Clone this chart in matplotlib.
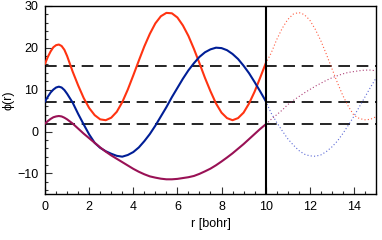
import numpy as np
import matplotlib
matplotlib.use("Agg")
import matplotlib.pyplot as plt
from matplotlib.ticker import MultipleLocator

plt.rcParams['font.family'] = ['Liberation Sans', 'DejaVu Sans']

# radial grid (bohr)
r_in = [0.0, 0.125, 0.25, 0.375, 0.5, 0.625, 0.75, 0.875, 1.0, 1.25, 1.5, 1.75, 2.0,
        2.25, 2.5, 2.75, 3.0, 3.25,
        3.5, 3.75, 4.0, 4.25, 4.5, 4.75, 5.0, 5.25, 5.5, 5.75, 6.0, 6.25, 6.5, 6.75,
        7.0, 7.25, 7.5, 7.75, 8.0, 8.25, 8.5, 8.75, 9.0, 9.25, 9.5, 9.75, 10.0]
r_out = [10.0, 10.25, 10.5, 10.75, 11.0, 11.25, 11.5, 11.75, 12.0, 12.25, 12.5,
         12.75, 13.0, 13.25, 13.5, 13.75, 14.0, 14.25, 14.5, 14.75, 15.0]

# energies (dashed levels)
levels = [15.55, 7.07, 1.74]

# red state (inside / outside)
red_in = [16.2, 17.8, 19.1, 20.1, 20.6, 20.75, 20.4, 19.5, 18.0, 14.3, 11.0, 8.0, 5.6,
          3.9, 2.9, 2.7, 3.3, 4.7,
          7.0, 10.0, 13.4, 16.9, 20.3, 23.3, 25.8, 27.5, 28.3, 28.2, 27.2, 25.3, 22.8,
          19.7, 16.3, 12.8, 9.6, 6.7, 4.5, 3.2, 2.7, 3.2, 4.5, 6.7, 9.5, 12.8, 16.2]
red_out = [16.2, 18.7, 21.9, 24.6, 26.7, 28.0, 28.4, 27.9, 26.6, 24.4, 21.7, 18.5,
           15.1, 11.7, 8.6, 6.0, 3.9, 3.1, 2.8, 2.9, 3.5]

# blue state
blue_in = [7.2, 8.3, 9.3, 10.0, 10.5, 10.7, 10.5, 9.9, 9.0, 6.9, 4.2, 1.7, -0.7,
           -2.7, -3.9, -4.7, -5.3, -5.8,
           -6.0, -5.6, -4.9, -3.8, -2.3, -0.6, 1.4, 3.6, 5.8, 8.2, 10.4, 12.6, 14.6,
           16.3, 17.8, 18.9, 19.6, 20.0, 19.9, 19.4, 18.5, 17.3, 15.7, 13.9, 11.8, 9.6, 7.3]
blue_out = [7.3, 4.4, 2.2, 0.2, -1.7, -3.2, -4.5, -5.4, -5.8, -5.9, -5.6, -4.8, -3.7,
            -2.3, -0.5, 1.5, 3.6, 5.9, 8.2, 10.5, 12.7]

# purple state
purple_in = [1.9, 2.5, 3.0, 3.4, 3.6, 3.7, 3.6, 3.3, 2.9, 1.9, 0.7, -0.5, -1.6,
             -2.7, -3.8, -4.8, -5.7, -6.5,
             -7.3, -8.1, -8.9, -9.6, -10.2, -10.7, -11.0, -11.25, -11.4, -11.4, -11.3,
             -11.1, -10.9, -10.6, -10.1, -9.5, -8.85, -8.05, -7.15, -6.2, -5.2, -4.1,
             -3.0, -1.8, -0.6, 0.6, 1.7]
purple_out = [1.7, 2.9, 4.0, 5.1, 6.4, 7.4, 8.3, 9.2, 10.0, 10.8, 11.5, 12.2, 12.8,
              13.3, 13.75, 14.1, 14.3, 14.5, 14.65, 14.65, 14.5]

boundary = 10.0

c_red = '#FF3311'
c_blue = '#001E96'
c_purple = '#991155'

fig = plt.figure(figsize=(3.82, 2.40), dpi=100)
ax = fig.add_axes([0.118, 0.190, 0.866, 0.786])

for lv in levels:
    ax.axhline(lv, color='black', lw=1.2, dashes=(7, 4), zorder=1)

ax.plot(r_in, red_in, color=c_red, lw=1.5, zorder=3)
ax.plot(r_in, blue_in, color=c_blue, lw=1.5, zorder=3)
ax.plot(r_in, purple_in, color=c_purple, lw=1.5, zorder=3)

ax.plot(r_out, red_out, color=c_red, lw=0.8, ls=(0, (1, 2)), alpha=0.8, zorder=2)
ax.plot(r_out, blue_out, color='#3344CC', lw=0.8, ls=(0, (1, 2)), alpha=0.8, zorder=2)
ax.plot(r_out, purple_out, color=c_purple, lw=0.8, ls=(0, (1, 2)), alpha=0.8, zorder=2)

ax.axvline(boundary, color='black', lw=1.5, zorder=4)

ax.set_xlim(0, 15)
ax.set_ylim(-15, 30)
ax.xaxis.set_major_locator(MultipleLocator(2))
ax.xaxis.set_minor_locator(MultipleLocator(0.5))
ax.yaxis.set_major_locator(MultipleLocator(10))
ax.yaxis.set_minor_locator(MultipleLocator(2))
ax.tick_params(which='both', direction='in', top=False, right=False,
               labelsize=9, color='#333333', width=0.8)
ax.tick_params(which='major', length=5, pad=5)
ax.tick_params(which='minor', length=2.5)
for s in ax.spines.values():
    s.set_linewidth(1.0)

ax.set_xlabel('r [bohr]', fontsize=9, labelpad=3)
ax.set_ylabel('ϕ(r)', fontsize=9, labelpad=2)

fig.savefig('out.png', dpi=100)
